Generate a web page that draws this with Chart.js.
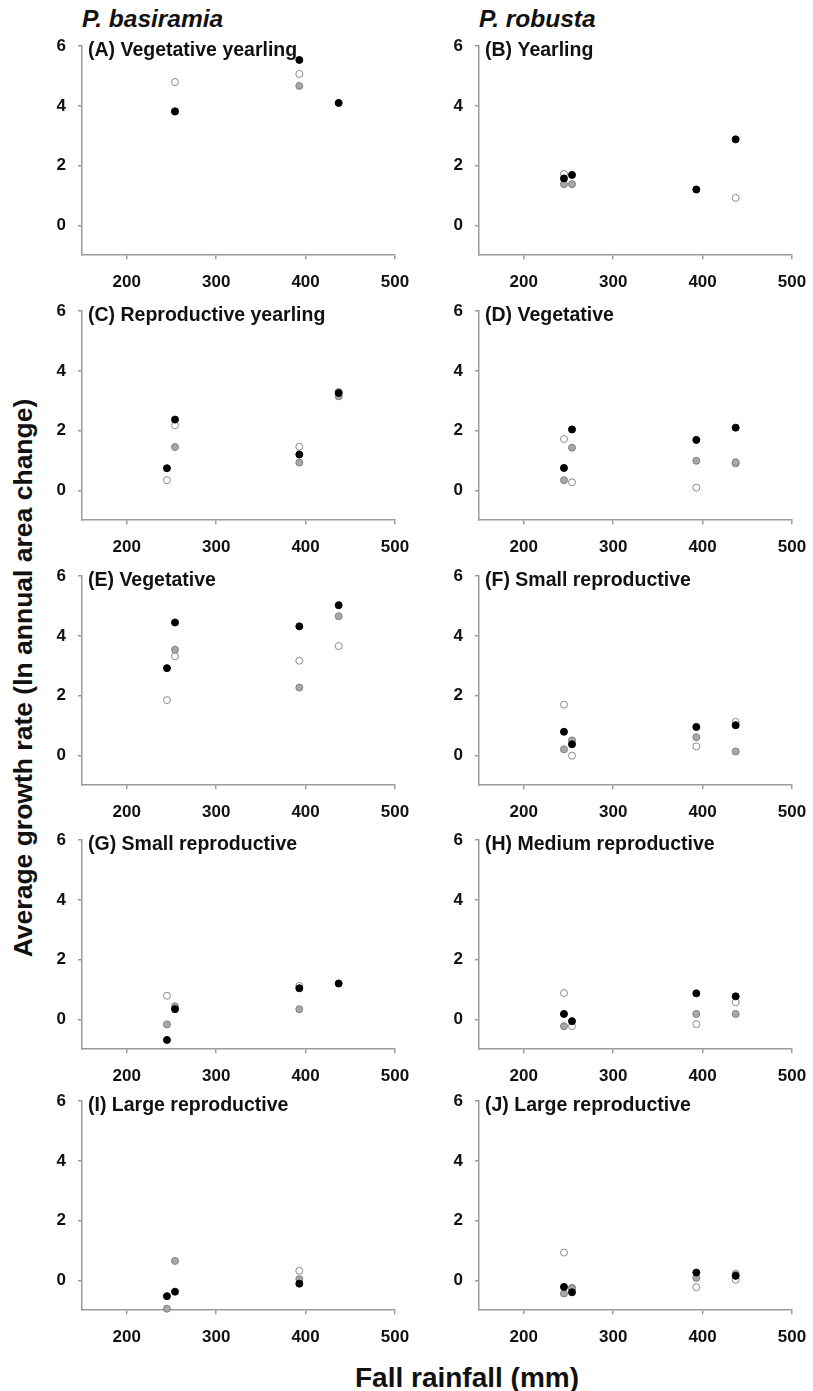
<!DOCTYPE html>
<html>
<head>
<meta charset="utf-8">
<script src="https://cdn.jsdelivr.net/npm/chart.js@4.4.4/dist/chart.umd.min.js"></script>
<style>
  body { margin: 0; background: #fff; }
  #fig { position: relative; width: 813px; height: 1391px; background: #fff;
         font-family: "Liberation Sans", Arial, sans-serif; color: #111; }
  #fig canvas { position: absolute; }
  .species { position: absolute; top: 4px; font-weight: bold; font-style: italic; font-size: 24.5px; line-height: 30px; }
  #ytitle { position: absolute; left: 23px; top: 678px; white-space: nowrap;
            transform: translate(-50%, -50%) rotate(-90deg);
            font-weight: bold; font-size: 26.5px; }
  #xtitle { position: absolute; left: 467px; top: 1378px; white-space: nowrap;
            transform: translate(-50%, -50%); font-weight: bold; font-size: 28px; }
</style>
</head>
<body>
<div id="fig">
  <div class="species" style="left:82px">P. basiramia</div>
  <div class="species" style="left:479px">P. robusta</div>
  <div id="ytitle">Average growth rate (ln annual area change)</div>
  <div id="xtitle">Fall rainfall (mm)</div>
</div>
<script>
// fall rainfall (mm) of the four census years
const rainfall = [245, 254, 393, 437];
const xTicks = [200, 300, 400, 500];
const yTicks = [0, 2, 4, 6];

const panelTitles = [
  '(A) Vegetative yearling', '(B) Yearling',
  '(C) Reproductive yearling', '(D) Vegetative',
  '(E) Vegetative', '(F) Small reproductive',
  '(G) Small reproductive', '(H) Medium reproductive',
  '(I) Large reproductive', '(J) Large reproductive'
];

// growth rates per rainfall year, one array per marker style (null = no estimate)
const blackA = [null, 3.81, 5.54, 4.10];
const grayA  = [null, 3.83, 4.67, null];
const openA  = [null, 4.80, 5.07, null];

const blackB = [1.57, 1.69, 1.20, 2.88];
const grayB  = [1.38, 1.38, null, null];
const openB  = [1.72, null, null, 0.92];

const blackC = [0.74, 2.37, 1.20, 3.26];
const grayC  = [null, 1.45, 0.93, 3.15];
const openC  = [0.34, 2.18, 1.46, 3.30];

const blackD = [0.75, 2.04, 1.69, 2.10];
const grayD  = [0.34, 1.43, 0.99, 0.94];
const openD  = [1.72, 0.27, 0.09, 0.90];

const blackE = [2.92, 4.45, 4.32, 5.03];
const grayE  = [null, 3.54, 2.27, 4.66];
const openE  = [1.85, 3.32, 3.17, 3.66];

const blackF = [0.79, 0.37, 0.95, 1.01];
const grayF  = [0.20, 0.50, 0.61, 0.13];
const openF  = [1.70, -0.01, 0.30, 1.12];

const blackG = [-0.69, 0.34, 1.04, 1.20];
const grayG  = [-0.17, 0.41, 0.34, null];
const openG  = [0.79, 0.44, 1.12, null];

const blackH = [0.18, -0.06, 0.87, 0.77];
const grayH  = [-0.23, null, 0.18, 0.18];
const openH  = [0.88, -0.23, -0.16, 0.57];

const blackI = [-0.53, -0.38, -0.11, null];
const grayI  = [-0.95, 0.65, 0.04, null];
const openI  = [null, null, 0.32, null];

const blackJ = [-0.22, -0.40, 0.26, 0.15];
const grayJ  = [-0.44, -0.27, 0.08, 0.22];
const openJ  = [0.93, -0.25, -0.23, 0.02];

const panelSeries = [
  [blackA, grayA, openA], [blackB, grayB, openB],
  [blackC, grayC, openC], [blackD, grayD, openD],
  [blackE, grayE, openE], [blackF, grayF, openF],
  [blackG, grayG, openG], [blackH, grayH, openH],
  [blackI, grayI, openI], [blackJ, grayJ, openJ]
];

// plot area geometry
const colLeft = [82, 479];
const plotW = 313;
const rowTop = [46, 311, 576, 840, 1101];
const plotH = 209;
const Y_AXIS_W = 60, X_AXIS_H = 40, PAD_TOP = 14, PAD_RIGHT = 22;

const tickFont = { family: '"Liberation Sans", Arial, sans-serif', size: 17, weight: 'bold' };
const axisGray = '#9a9a9a';

const styles = [
  { bg: '#000000', border: '#000000' },
  { bg: '#a8a8a8', border: '#808080' },
  { bg: '#ffffff', border: '#8a8a8a' }
];

const panelLabel = {
  id: 'panelLabel',
  afterDraw(chart, args, opts) {
    const { ctx, chartArea } = chart;
    ctx.save();
    ctx.font = 'bold 19.5px "Liberation Sans", Arial, sans-serif';
    ctx.fillStyle = '#111';
    ctx.textBaseline = 'middle';
    ctx.fillText(opts.text, chartArea.left + 6, chartArea.top + 4);
    ctx.restore();
  }
};

const fig = document.getElementById('fig');

panelSeries.forEach((series, i) => {
  const col = i % 2, row = Math.floor(i / 2);
  const canvas = document.createElement('canvas');
  canvas.width = Y_AXIS_W + plotW + PAD_RIGHT;
  canvas.height = PAD_TOP + plotH + X_AXIS_H;
  fig.appendChild(canvas);

  // dataset 0 is drawn on top, so black sits over gray over open
  const datasets = series.map((vals, k) => ({
    data: rainfall.map((x, j) => ({ x: x, y: vals[j] })).filter(p => p.y !== null),
    backgroundColor: styles[k].bg,
    borderColor: styles[k].border,
    borderWidth: 1,
    pointRadius: 3.5,
    clip: false
  }));

  const chart = new Chart(canvas, {
    type: 'scatter',
    data: { datasets },
    plugins: [panelLabel],
    options: {
      responsive: false,
      maintainAspectRatio: false,
      animation: false,
      events: [],
      layout: { padding: { top: PAD_TOP, right: PAD_RIGHT, left: 0, bottom: 0 } },
      plugins: {
        legend: { display: false },
        tooltip: { enabled: false },
        panelLabel: { text: panelTitles[i] }
      },
      scales: {
        x: {
          type: 'linear', min: 150, max: 500,
          afterBuildTicks: s => { s.ticks = xTicks.map(v => ({ value: v })); },
          afterFit: s => { s.height = X_AXIS_H; },
          grid: { drawOnChartArea: false, tickLength: 4, color: axisGray, lineWidth: 1.5 },
          border: { color: axisGray, width: 1.5 },
          ticks: { font: tickFont, color: '#111', padding: 13, maxRotation: 0, autoSkip: false }
        },
        y: {
          type: 'linear', min: -1, max: 6,
          afterBuildTicks: s => { s.ticks = yTicks.map(v => ({ value: v })); },
          afterFit: s => { s.width = Y_AXIS_W; },
          grid: { drawOnChartArea: false, tickLength: 4, color: axisGray, lineWidth: 1.5 },
          border: { color: axisGray, width: 1.5 },
          ticks: { font: tickFont, color: '#111', padding: 12 }
        }
      }
    }
  });

  // grow the canvas until the plot area has the wanted size, then place it
  const a = chart.chartArea;
  const dw = plotW - (a.right - a.left);
  const dh = plotH - (a.bottom - a.top);
  if (dw || dh) chart.resize(chart.width + dw, chart.height + dh);
  canvas.style.left = (colLeft[col] - chart.chartArea.left) + 'px';
  canvas.style.top = (rowTop[row] - chart.chartArea.top) + 'px';
});
</script>
</body>
</html>
